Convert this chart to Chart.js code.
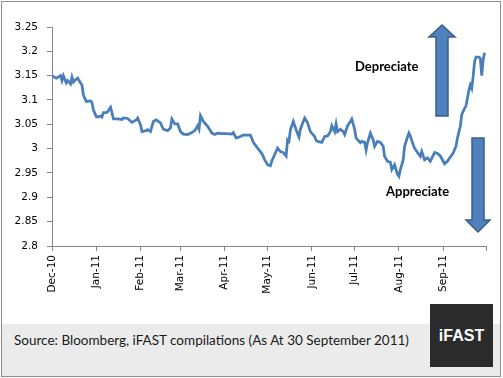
<!DOCTYPE html>
<html>
<head>
<meta charset="utf-8">
<script src="https://cdn.jsdelivr.net/npm/chart.js@4"></script>
<style>
  body { margin: 0; background: #fff; }
  #wrap { position: relative; width: 503px; height: 378px; overflow: hidden; }
  #frame { position: absolute; left: 1px; top: 1px; width: 498px; height: 374px; border: 1px solid #8c8c8c; }
  #footer { position: absolute; left: 2px; top: 324px; width: 498px; height: 52px; background: #ebebeb; }
  #source { position: absolute; left: 14px; top: 332px; font: 13.5px Lato, sans-serif; color: #1a1a1a; white-space: nowrap; }
  #logo { position: absolute; left: 430px; top: 304px; width: 63px; height: 63px; background: #2b2b2b; color: #fff;
          font: bold 16px "Liberation Sans", Arial, sans-serif; text-align: center; line-height: 63px; }
  canvas { position: absolute; left: 0; top: 0; }
</style>
</head>
<body>
<div id="wrap">
  <div id="footer"></div>
  <div id="frame"></div>
  <div id="source">Source: Bloomberg, iFAST compilations (As At 30 September 2011)</div>
  <div id="logo">iFAST</div>
  <canvas id="myChart" width="503" height="378"></canvas>
</div>
<script>
// days since 1 Dec 2010
var days = [0,1,3,6,7,8,10,11,13,14,15,17,18,20,21,22,24,27,28,29,31,32,34,35,36,38,39,41,42,43,46,49,50,53,56,59,60,62,63,66,67,69,71,73,76,78,81,83,84,86,88,90,92,95,98,100,102,103,104,106,109,112,114,116,119,122,126,127,129,132,134,137,139,141,144,147,149,151,153,154,156,158,160,162,164,165,166,167,169,171,173,174,176,177,179,181,184,185,186,189,191,193,195,196,198,199,200,202,204,205,207,209,210,212,213,216,217,219,220,221,223,225,226,228,230,232,233,235,237,238,240,241,242,243,244,246,247,249,250,251,253,254,256,258,259,261,263,265,266,268,270,272,275,277,279,281,283,284,286,287,289,290,291,292,293,294,295,296,297,299,300,301,302,303];
var values = [3.150,3.148,3.145,3.150,3.140,3.150,3.135,3.140,3.133,3.147,3.137,3.143,3.145,3.135,3.131,3.110,3.097,3.098,3.095,3.080,3.066,3.065,3.067,3.065,3.074,3.074,3.076,3.085,3.074,3.061,3.061,3.060,3.063,3.062,3.054,3.059,3.063,3.049,3.035,3.037,3.039,3.035,3.056,3.059,3.053,3.040,3.037,3.043,3.061,3.051,3.051,3.035,3.030,3.029,3.033,3.037,3.047,3.040,3.068,3.056,3.046,3.032,3.029,3.032,3.031,3.031,3.030,3.033,3.022,3.025,3.028,3.028,3.028,3.013,3.001,2.990,2.977,2.967,2.965,2.975,2.988,3.001,2.994,2.992,2.985,3.018,3.015,3.039,3.056,3.039,3.024,3.040,3.056,3.063,3.053,3.035,3.025,3.017,3.015,3.013,3.025,3.026,3.035,3.047,3.035,3.051,3.035,3.040,3.035,3.029,3.047,3.056,3.061,3.040,3.022,3.012,3.015,3.013,2.997,3.012,3.032,3.018,3.005,3.015,3.013,3.005,2.984,2.974,2.972,2.957,2.967,2.957,2.947,2.943,2.957,2.977,3.005,3.024,3.032,3.026,3.008,3.001,2.992,2.984,2.994,2.977,2.981,2.974,2.980,2.992,2.990,2.985,2.969,2.974,2.983,2.991,3.005,3.022,3.046,3.070,3.083,3.088,3.104,3.120,3.131,3.124,3.148,3.179,3.188,3.188,3.186,3.150,3.182,3.197];

var monthStarts = [0,31,62,90,121,151,182,212,243,274,304];
var monthLabels = ['Dec-10','Jan-11','Feb-11','Mar-11','Apr-11','May-11','Jun-11','Jul-11','Aug-11','Sep-11',''];
var yTicks = [2.8,2.85,2.9,2.95,3,3.05,3.1,3.15,3.2,3.25];

var axisGray = '#868686';

// arrows and the two captions
var annotations = {
    id: 'annotations',
    afterDatasetsDraw: function (chart) {
        var ctx = chart.ctx;
        ctx.save();
        ctx.fillStyle = '#4f81bd';
        ctx.strokeStyle = '#385d8a';
        ctx.lineWidth = 1.5;
        // up arrow
        ctx.beginPath();
        ctx.moveTo(442, 25); ctx.lineTo(455, 37); ctx.lineTo(448, 37); ctx.lineTo(448, 116);
        ctx.lineTo(436, 116); ctx.lineTo(436, 37); ctx.lineTo(429, 37); ctx.closePath();
        ctx.fill(); ctx.stroke();
        // down arrow
        ctx.beginPath();
        ctx.moveTo(472, 138); ctx.lineTo(484, 138); ctx.lineTo(484, 220); ctx.lineTo(490, 220);
        ctx.lineTo(478, 232); ctx.lineTo(466, 220); ctx.lineTo(472, 220); ctx.closePath();
        ctx.fill(); ctx.stroke();

        ctx.fillStyle = '#000';
        ctx.font = 'bold 13px Lato, sans-serif';
        ctx.textBaseline = 'middle';
        ctx.fillText('Depreciate', 355, 67);
        ctx.fillText('Appreciate', 386, 192);
        ctx.restore();
    }
};

var ctx = document.getElementById('myChart').getContext('2d');
var myChart = new Chart(ctx, {
    type: 'line',
    data: {
        datasets: [{
            data: days.map(function (d, i) { return { x: d, y: values[i] }; }),
            borderColor: '#4a7ebb',
            borderWidth: 2.75,
            pointRadius: 0,
            tension: 0,
            fill: false
        }]
    },
    options: {
        responsive: false,
        animation: false,
        layout: { padding: { top: 27, right: 17, left: 0, bottom: 0 } },
        plugins: { legend: { display: false }, tooltip: { enabled: false } },
        scales: {
            x: {
                type: 'linear',
                min: 0,
                max: 304,
                afterBuildTicks: function (scale) {
                    scale.ticks = monthStarts.map(function (v) { return { value: v }; });
                },
                afterFit: function (scale) { scale.height = 132; },
                ticks: {
                    autoSkip: false,
                    minRotation: 90,
                    maxRotation: 90,
                    padding: 4,
                    color: '#000',
                    font: { family: 'DejaVu Sans', size: 10.5 },
                    callback: function (v, i) { return monthLabels[i]; }
                },
                grid: { drawOnChartArea: false, drawTicks: true, tickLength: 5, color: axisGray },
                border: { color: axisGray, width: 1 }
            },
            y: {
                min: 2.8,
                max: 3.25,
                afterBuildTicks: function (scale) {
                    scale.ticks = yTicks.map(function (v) { return { value: v }; });
                },
                afterFit: function (scale) { scale.width = 52; },
                ticks: {
                    padding: 9,
                    color: '#000',
                    font: { family: 'DejaVu Sans', size: 10.5 },
                    callback: function (v) { return String(v); }
                },
                grid: { drawOnChartArea: false, drawTicks: true, tickLength: 5, color: axisGray },
                border: { color: axisGray, width: 1 }
            }
        }
    },
    plugins: [annotations]
});
</script>
</body>
</html>
